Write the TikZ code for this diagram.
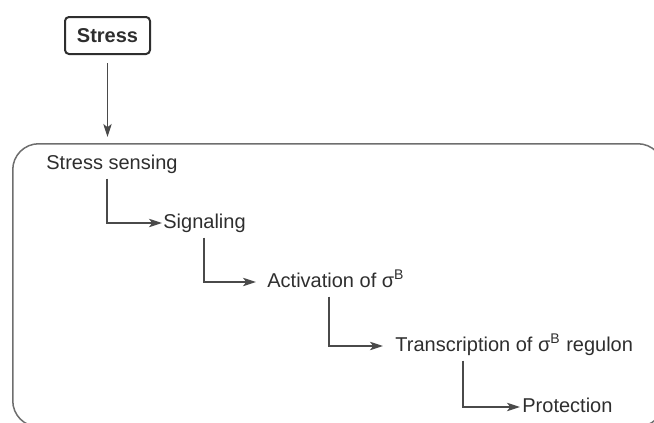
\documentclass[tikz,border=0pt]{standalone}
\usepackage{fontspec}
\setmainfont{Liberation Sans}
\usepackage{tikz}
\usetikzlibrary{arrows.meta,positioning}
\usepackage{xcolor}
\definecolor{inkgray}{HTML}{2E2E2E}
\definecolor{linegray}{HTML}{4A4A4A}
\definecolor{framegray}{HTML}{6E6E6E}

\begin{document}
\begin{tikzpicture}[
        x=0.5pt, y=-0.5pt,
        trigger/.style={rectangle, rounded corners=2pt, draw=inkgray, line width=1pt, minimum width=42.5pt, minimum height=18.5pt, font=\bfseries, text=inkgray},
        stage/.style={anchor=west, inner xsep=0pt, inner ysep=2.5pt, text height=7.2pt, text depth=2pt, text=inkgray},
        arrow/.style={-{Stealth[length=6.5pt,width=4.2pt,inset=1.6pt]}, draw=linegray, line width=0.65pt}
    ]
        \useasboundingbox (0,0) rectangle (654,423);
        \clip (0,0) rectangle (654,423);

        % Cell frame
        \node[draw=framegray, line width=0.75pt, rounded corners=13pt, minimum width=325.5pt, minimum height=141.5pt, inner sep=0pt, anchor=north west] (cell) at (12,143) {};

        % Stress input
        \node[trigger] (stress) at (107.5,35.5) {Stress};
        \draw[arrow, shorten <=4pt, shorten >=3pt] (stress.south) -- (stress.south |- cell.north);

        % Response stages
        \node[stage] (sensing) at (46,164) {Stress sensing};
        \node[stage] (signal) at (163,223) {Signaling};
        \node[stage] (activ) at (267,282) {Activation of σ\textsuperscript{B}};
        \node[stage] (transc) at (395,346) {Transcription of σ\textsuperscript{B} regulon};
        \node[stage] (protect) at (522,407) {Protection};

        % Arrows
        \draw[arrow, shorten >=0.5pt] ([xshift=30.5pt]sensing.south west) |- (signal.west);
        \draw[arrow, shorten >=5.5pt] ([xshift=20.5pt]signal.south west) |- (activ.west);
        \draw[arrow, shorten >=6pt] ([xshift=31pt]activ.south west) |- (transc.west);
        \draw[arrow, shorten >=1pt] ([xshift=34pt]transc.south west) |- (protect.west);

    \end{tikzpicture}
\end{document}
